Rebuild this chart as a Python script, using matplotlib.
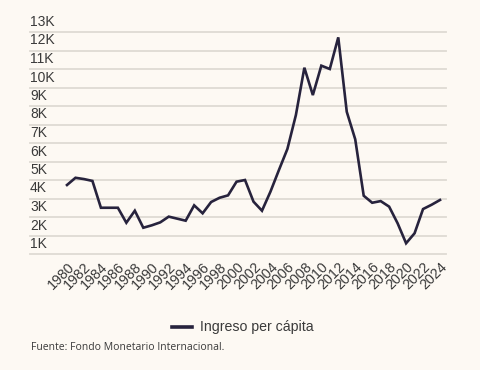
import numpy as np
import matplotlib
matplotlib.use("Agg")
import matplotlib.pyplot as plt
import matplotlib.transforms as mtransforms

# Ingreso per capita (miles de USD)
years = list(range(1980, 2025))
income = [4.73, 5.12, 5.05, 4.95, 3.50, 3.50, 3.50, 2.69, 3.34, 2.42,
          2.55, 2.71, 3.02, 2.91, 2.80, 3.63, 3.20, 3.81, 4.04, 4.17,
          4.91, 5.00, 3.83, 3.34, 4.37, 5.54, 6.68, 8.51, 11.07, 9.59,
          11.18, 11.00, 12.71, 8.69, 7.20, 4.15, 3.77, 3.86, 3.56, 2.66,
          1.58, 2.12, 3.43, 3.66, 3.92]
ytick_vals = list(range(1, 14))
ytick_labels = [f"{v}K" for v in ytick_vals]
xtick_vals = list(range(1980, 2025, 2))

bg = "#fdf9f3"
line_col = "#27233d"
text_col = "#3a3a3a"

W, H = 480, 370
fig = plt.figure(figsize=(W / 100, H / 100), dpi=100, facecolor=bg)

# axes placed in pixel coords: x 30..446, y 32..254 (13K..1K)
left, right, top, bottom = 30, 446, 32, 254
ax = fig.add_axes([left / W, 1 - bottom / H, (right - left) / W, (bottom - top) / H])
ax.set_facecolor(bg)
ax.set_ylim(1, 13)
px_per_year = (440 - 67) / 44
ax.set_xlim(1980 - (67 - left) / px_per_year, 2024 + (right - 440) / px_per_year)

for v in ytick_vals:
    ax.axhline(v, color="#dedad3", lw=1.3, zorder=1, clip_on=False)

ax.plot(years, income, color=line_col, lw=1.9, zorder=3, clip_on=False,
        solid_joinstyle="miter")

for s in ax.spines.values():
    s.set_visible(False)
ax.set_yticks([])
ax.set_xticks(xtick_vals)
ax.set_xticklabels([str(y) for y in xtick_vals], rotation=45, ha="right",
                   rotation_mode="anchor", fontsize=10.3, color=text_col,
                   family="Liberation Sans")
ax.tick_params(axis="x", length=0, pad=4)

# y labels sit just above each gridline
trans = mtransforms.blended_transform_factory(ax.transAxes, ax.transData)
for v, lab in zip(ytick_vals, ytick_labels):
    t = ax.text(0, v, lab, transform=trans, ha="left", va="bottom",
                fontsize=10, color=text_col, family="Liberation Sans")
    t.set_transform(trans + mtransforms.ScaledTranslation(0, 3 / 100, fig.dpi_scale_trans))

# legend
fig.lines.append(plt.Line2D([172 / W, 192 / W], [1 - 326.5 / H] * 2,
                            transform=fig.transFigure, color=line_col, lw=2.6))
fig.text(200 / W, 1 - 326.5 / H, "Ingreso per cápita", ha="left", va="center",
         fontsize=10.2, color=text_col, family="Liberation Sans")

fig.text(31 / W, 1 - 347 / H, "Fuente: Fondo Monetario Internacional.",
         ha="left", va="center", fontsize=7.5, color=text_col, family="Open Sans")

fig.savefig("out.png", dpi=100, facecolor=bg)
